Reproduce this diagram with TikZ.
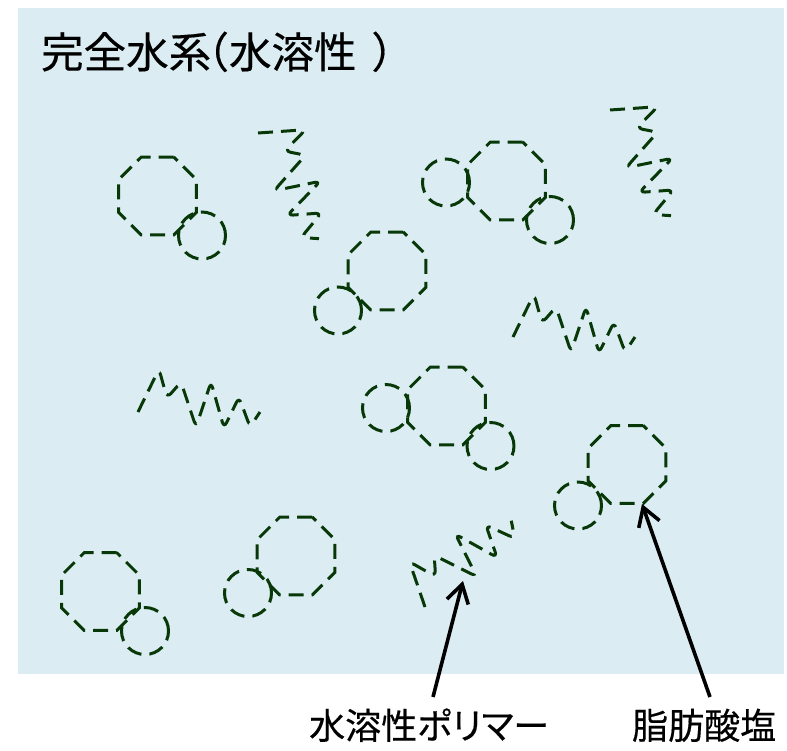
\documentclass[tikz,border=0pt]{standalone}
\usepackage{fontspec}
\newfontfamily\jpfont[FakeBold=0.4]{Noto Sans CJK JP}
\newfontfamily\jpprop[FakeBold=0.4,RawFeature=+palt]{Noto Sans CJK JP}
\usetikzlibrary{shapes.geometric,arrows.meta}
\definecolor{water}{RGB}{219,237,243}
\definecolor{chain}{RGB}{8,56,8}

\begin{document}
\begin{tikzpicture}[x=1pt,y=-1pt,
  outline/.style={draw=chain, line width=3pt, dash pattern=on 15pt off 8pt},
  head/.style={outline, regular polygon, regular polygon sides=8,
    minimum size=84.4pt, inner sep=0pt, outer sep=0pt},
  tail/.style={outline, circle, minimum size=47pt, inner sep=0pt, outer sep=0pt},
  pointer/.style={line width=3.6pt, -{Straight Barb[length=18pt,width=22pt]}},
  label/.style={anchor=base west, inner sep=0pt,
    font=\jpfont\fontsize{36}{44}\selectfont},
  zigzag/.pic={
    \draw[outline, rounded corners=6pt]
      (0,0) -- (21,-43) -- (29,-14) -- (43,-30) -- (58,15) -- (73,-30)
      -- (86,16) -- (101,-15) -- (112,15) -- (122,0);
  }]
  % canvas and water background
  \useasboundingbox (0,0) rectangle (787,750);
  \fill[water] (18,8) rectangle (784,674);

  % heading
  \node[anchor=base west, inner sep=0pt,
    font=\jpfont\fontsize{42.5}{50}\selectfont] (title) at (41,68)
    {完全水系\kern-0.58em（水溶性\kern0.35em）};

  % fatty acid salt molecules: octagonal head with round tail(s)
  \node[head] (o1) at (157.5,196) {};
  \node[tail] (c1) at (202,235.5) {};

  \node[head] (o2) at (506.5,181) {};
  \node[tail] (c2a) at (446,182.5) {};
  \node[tail] (c2b) at (550,220) {};

  \node[head] (o3) at (387,271) {};
  \node[tail] (c3) at (338,310.5) {};

  \node[head] (o4) at (446.5,406) {};
  \node[tail] (c4a) at (386,408) {};
  \node[tail] (c4b) at (490.5,446) {};

  \node[head] (o5) at (627,464.5) {};
  \node[tail] (c5) at (578,505.5) {};

  \node[head] (o6) at (296,556) {};
  \node[tail] (c6) at (248,593) {};

  \node[head] (o7) at (100.5,591.5) {};
  \node[tail] (c7) at (145,631) {};

  % water-soluble polymer chains
  \pic[rotate=-60] at (258,133) {zigzag};
  \pic[rotate=-60] at (610,110) {zigzag};
  \pic at (138,412) {zigzag};
  \pic at (513,337) {zigzag};
  \pic[rotate=45] at (425,607) {zigzag};

  % captions
  \node[label] (lp) at (309,739) {水溶性{\jpprop ポリマー}};
  \node[label] (lf) at (632,739) {脂肪酸塩};

  % pointers from captions
  \coordinate (pa) at (433,697);
  \coordinate (pt) at (463,581);
  \coordinate (fa) at (710,697);
  \coordinate (ft) at (642,504);
  \draw[pointer] (pa) -- (pt);
  \draw[pointer] (fa) -- (ft);
\end{tikzpicture}
\end{document}
